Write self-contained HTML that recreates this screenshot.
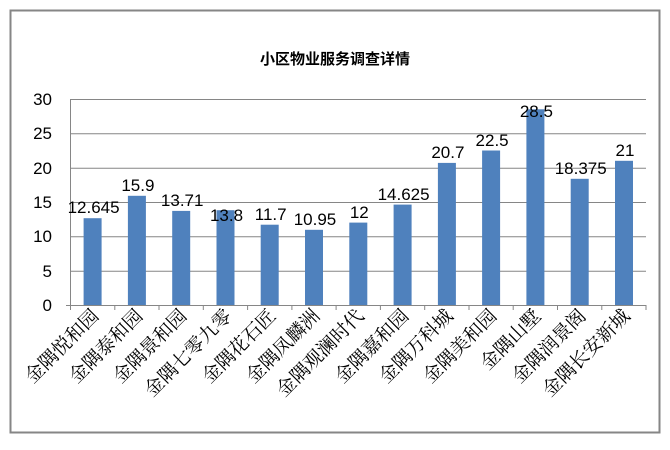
<!DOCTYPE html>
<html><head><meta charset="utf-8"><style>body{margin:0;background:#fff}svg{display:block}</style></head><body>
<svg width="670" height="450" xmlns="http://www.w3.org/2000/svg">
<rect x="10.5" y="10.5" width="649" height="422" fill="#fff" stroke="#868686" stroke-width="2"/>
<text x="335" y="64" text-anchor="middle" font-family="'Noto Sans CJK SC',sans-serif" font-size="15" font-weight="bold">小区物业服务调查详情</text>
<g stroke="#868686" stroke-width="1">
<line x1="70.5" y1="99.5" x2="646" y2="99.5"/>
<line x1="70.5" y1="133.8" x2="646" y2="133.8"/>
<line x1="70.5" y1="168.2" x2="646" y2="168.2"/>
<line x1="70.5" y1="202.5" x2="646" y2="202.5"/>
<line x1="70.5" y1="236.8" x2="646" y2="236.8"/>
<line x1="70.5" y1="271.2" x2="646" y2="271.2"/>
<line x1="70.5" y1="99" x2="70.5" y2="310"/>
<line x1="66" y1="305.5" x2="646" y2="305.5"/>
<line x1="114.8" y1="305" x2="114.8" y2="310"/><line x1="159" y1="305" x2="159" y2="310"/>
<line x1="203.3" y1="305" x2="203.3" y2="310"/><line x1="247.6" y1="305" x2="247.6" y2="310"/>
<line x1="291.9" y1="305" x2="291.9" y2="310"/><line x1="336.1" y1="305" x2="336.1" y2="310"/>
<line x1="380.4" y1="305" x2="380.4" y2="310"/><line x1="424.7" y1="305" x2="424.7" y2="310"/>
<line x1="469" y1="305" x2="469" y2="310"/><line x1="513.2" y1="305" x2="513.2" y2="310"/>
<line x1="557.5" y1="305" x2="557.5" y2="310"/><line x1="601.8" y1="305" x2="601.8" y2="310"/>
<line x1="646" y1="305" x2="646" y2="310"/>
</g>
<g font-family="'Liberation Sans',sans-serif" font-size="17" text-anchor="end" fill="#000">
<text x="52" y="105">30</text><text x="52" y="139">25</text><text x="52" y="174">20</text><text x="52" y="208">15</text><text x="52" y="242">10</text><text x="52" y="277">5</text><text x="52" y="311">0</text>
</g>
<g fill="#4f81bd">
<rect x="83.6" y="218.2" width="18" height="86.8"/>
<rect x="127.9" y="195.8" width="18" height="109.2"/>
<rect x="172.2" y="210.9" width="18" height="94.1"/>
<rect x="216.5" y="210.2" width="18" height="94.8"/>
<rect x="260.7" y="224.7" width="18" height="80.3"/>
<rect x="305" y="229.8" width="18" height="75.2"/>
<rect x="349.3" y="222.6" width="18" height="82.4"/>
<rect x="393.6" y="204.6" width="18" height="100.4"/>
<rect x="437.9" y="162.9" width="18" height="142.1"/>
<rect x="482.1" y="150.5" width="18" height="154.5"/>
<rect x="526.4" y="109.3" width="18" height="195.7"/>
<rect x="570.7" y="178.8" width="18" height="126.2"/>
<rect x="615" y="160.8" width="18" height="144.2"/>
</g>
<g font-family="'Liberation Sans',sans-serif" font-size="17" text-anchor="middle" fill="#000">
<text x="93.6" y="213">12.645</text>
<text x="137.9" y="191">15.9</text>
<text x="182.2" y="206">13.71</text>
<text x="226.5" y="221">13.8</text>
<text x="270.7" y="220">11.7</text>
<text x="315" y="225">10.95</text>
<text x="359.3" y="218">12</text>
<text x="403.6" y="200">14.625</text>
<text x="447.9" y="158">20.7</text>
<text x="492.1" y="146">22.5</text>
<text x="536.4" y="117">28.5</text>
<text x="580.7" y="174">18.375</text>
<text x="625" y="156">21</text>
</g>
<g font-family="'Noto Serif CJK SC',serif" font-size="19" text-anchor="end" fill="#000">
<text transform="translate(100,317) rotate(-45)">金隅悦和园</text>
<text transform="translate(144,317) rotate(-45)">金隅泰和园</text>
<text transform="translate(188,317) rotate(-45)">金隅景和园</text>
<text transform="translate(233,317) rotate(-45)">金隅七零九零</text>
<text transform="translate(277,317) rotate(-45)">金隅花石匠</text>
<text transform="translate(321,317) rotate(-45)">金隅凤麟洲</text>
<text transform="translate(365,317) rotate(-45)">金隅观澜时代</text>
<text transform="translate(410,317) rotate(-45)">金隅嘉和园</text>
<text transform="translate(454,317) rotate(-45)">金隅万科城</text>
<text transform="translate(498,317) rotate(-45)">金隅美和园</text>
<text transform="translate(542,317) rotate(-45)">金隅山墅</text>
<text transform="translate(587,317) rotate(-45)">金隅润景阁</text>
<text transform="translate(631,317) rotate(-45)">金隅长安新城</text>
</g>
</svg>
</body></html>
